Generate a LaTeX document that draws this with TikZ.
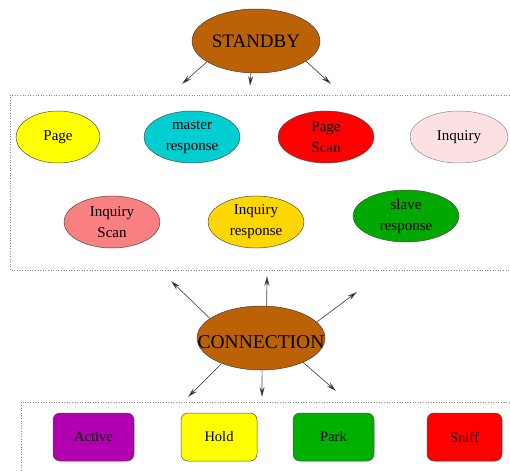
\documentclass[tikz,border=0pt]{standalone}
\usepackage{fontspec}
\setmainfont{Liberation Serif}
\usetikzlibrary{shapes.geometric,arrows.meta}

\definecolor{stbrown}{HTML}{BB6206}
\definecolor{stcyan}{HTML}{00CED1}
\definecolor{stred}{HTML}{FF0000}
\definecolor{styellow}{HTML}{FFFF00}
\definecolor{stpink}{HTML}{FBE1E1}
\definecolor{stcoral}{HTML}{F88080}
\definecolor{stgold}{HTML}{FFD700}
\definecolor{stgreen}{HTML}{00A800}
\definecolor{stpurple}{HTML}{B000B0}
\definecolor{stpark}{HTML}{00B000}

\tikzset{
  bigstate/.style={ellipse, draw=black!75, line width=0.5pt, fill=stbrown,
    inner sep=0pt, minimum width=128pt, minimum height=64pt},
  substate/.style={ellipse, draw=black!70, line width=0.5pt, inner sep=0pt,
    minimum height=52pt, align=center, font=\fontsize{15}{21}\selectfont},
  modebox/.style={rectangle, rounded corners=7pt, draw=black!70, line width=0.5pt,
    inner sep=0pt, minimum height=48pt, font=\fontsize{14.5}{17}\selectfont},
  groupframe/.style={draw=black!45, dotted, line width=0.6pt},
  flow/.style={draw=black!70, line width=0.7pt,
    -{Stealth[length=10pt,width=5pt,fill=black]}},
}

\begin{document}
\begin{tikzpicture}[x=1pt,y=-1pt]
  \useasboundingbox (0,0) rectangle (510,470);

  % group frames (open to the right and bottom)
  \draw[groupframe] (512,95) -- (10,95) -- (10,270) -- (512,270);
  \draw[groupframe] (512,402) -- (21,402) -- (21,472);

  % main states; the titles are set over the shapes so they may fill them
  \node[bigstate] (standby) at (256,41) {};
  \node[font=\fontsize{19}{19}\selectfont, inner sep=0pt] (standbytxt) at (standby.center) {STANDBY};
  \node[bigstate] (connection) at (261,338) {};
  \node[font=\fontsize{19.5}{19.5}\selectfont, inner sep=0pt] (conntxt) at ([yshift=-4pt]connection.center) {CONNECTION};

  % standby sub-states
  \node[substate, fill=styellow, minimum width=84pt] (page) at (58,137) {Page};
  \node[substate, fill=stcyan, minimum width=96pt] (mresp) at (192,137) {master\\response};
  \node[substate, fill=stred, minimum width=96pt] (pscan) at (326,137) {Page\\Scan};
  \node[substate, fill=stpink, draw=black!45, minimum width=98pt] (inq) at (459,137) {Inquiry};
  \node[substate, fill=stcoral, minimum width=96pt] (iscan) at (112,222) {Inquiry\\Scan};
  \node[substate, fill=stgold, minimum width=96pt] (iresp) at (256,222) {Inquiry\\response};
  \node[substate, fill=stgreen, minimum width=106pt] (sresp) at (406,216) {slave\\response};

  % connection modes
  \node[modebox, fill=stpurple, minimum width=81pt] (active) at (93.5,437) {Active};
  \node[modebox, fill=styellow, minimum width=76pt] (hold) at (219,437) {Hold};
  \node[modebox, fill=stpark, minimum width=81pt] (park) at (333.5,437) {Park};
  \node[modebox, fill=stred, minimum width=75pt] (sniff) at (464.5,437) {Sniff};

  % arrow end points
  \coordinate (s1) at (182,84);
  \coordinate (s2) at (250,86);
  \coordinate (s3) at (331,84);
  \coordinate (u1) at (171,281);
  \coordinate (u2) at (267,276);
  \coordinate (u3) at (357,292);
  \coordinate (d1) at (188,397);
  \coordinate (d2) at (262,397);
  \coordinate (d3) at (336,391);

  \draw[flow] (standby.-157) -- (s1);
  \draw[flow] (standby.-99) -- (s2);
  \draw[flow] (standby.-22) -- (s3);

  \draw[flow] (connection.159) -- (u1);
  \draw[flow] (connection.80) -- (u2);
  \draw[flow] (connection.16) -- (u3);
  \draw[flow] (connection.-147) -- (d1);
  \draw[flow] (connection.-88) -- (d2);
  \draw[flow] (connection.-30) -- (d3);
\end{tikzpicture}
\end{document}
